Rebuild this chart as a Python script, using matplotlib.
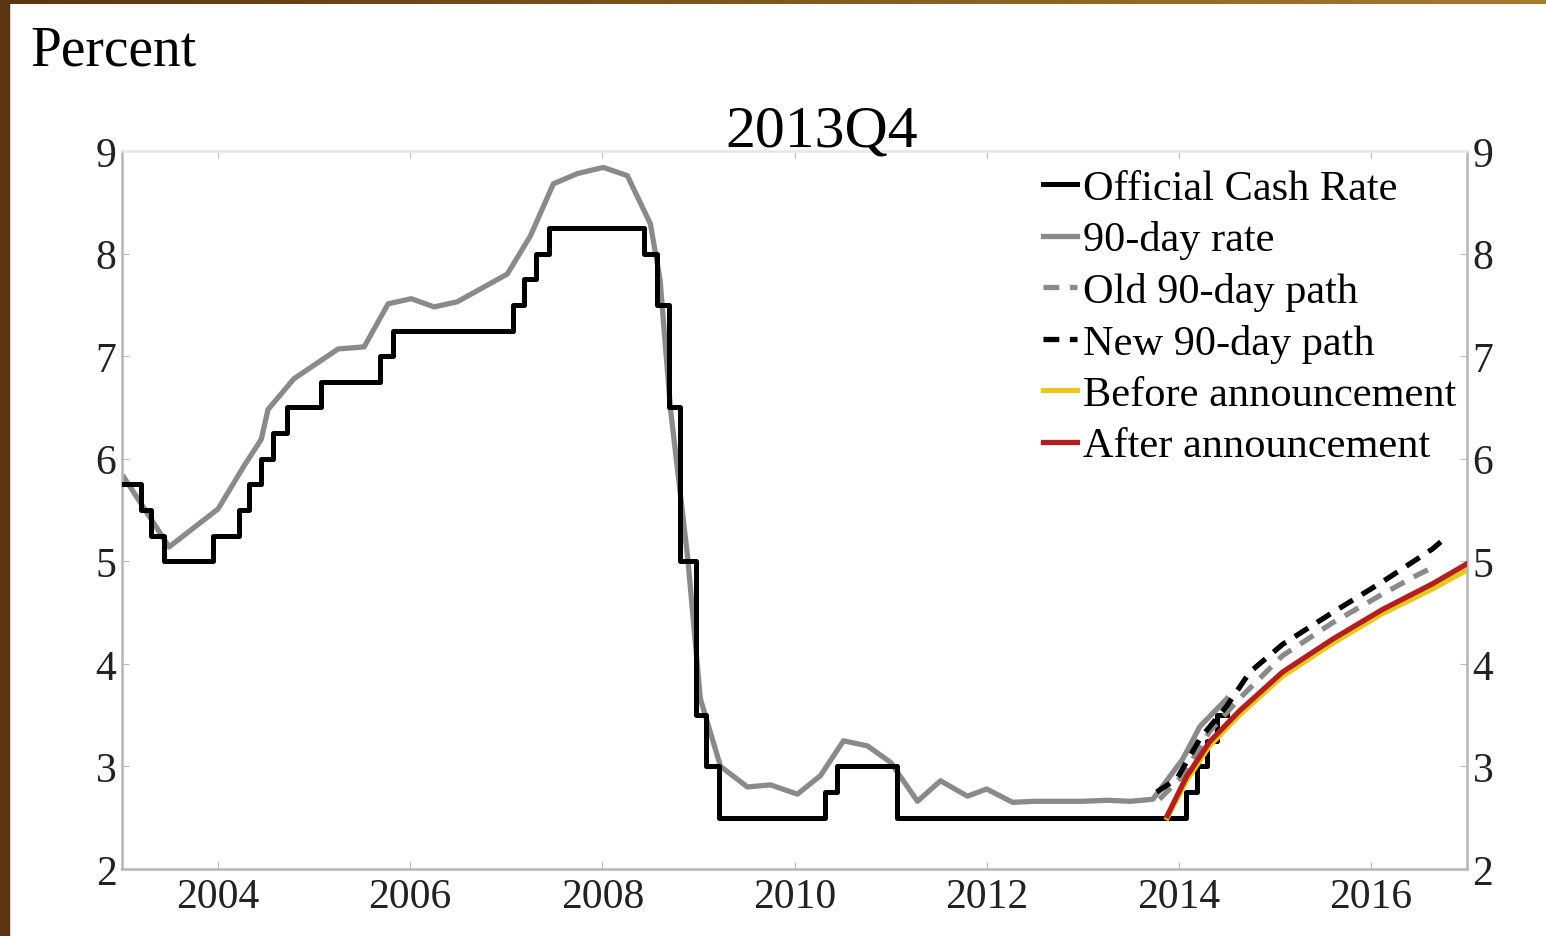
import numpy as np
import matplotlib
matplotlib.use("Agg")
from matplotlib import pyplot as plt
from matplotlib.patches import Rectangle

# Official Cash Rate: change dates (decimal years) and level from that date
ocr_dates = [2003.01, 2003.20, 2003.30, 2003.44, 2003.95, 2004.22, 2004.32, 2004.45,
             2004.57, 2004.72, 2005.07, 2005.69, 2005.82, 2007.07, 2007.18, 2007.31,
             2007.44, 2008.43, 2008.57, 2008.69, 2008.81, 2008.97, 2009.08, 2009.21,
             2010.32, 2010.44, 2011.07, 2014.08, 2014.19, 2014.29, 2014.40, 2014.50]
ocr_rate = [5.75, 5.5, 5.25, 5.0, 5.25, 5.5, 5.75, 6.0,
            6.25, 6.5, 6.75, 7.0, 7.25, 7.5, 7.75, 8.0,
            8.25, 8.0, 7.5, 6.5, 5.0, 3.5, 3.0, 2.5,
            2.75, 3.0, 2.5, 2.75, 3.0, 3.25, 3.5, 3.5]

# 90-day bank bill rate
d90_dates = [2003.02, 2003.49, 2004.00, 2004.27, 2004.45, 2004.52, 2004.79, 2005.25,
             2005.52, 2005.77, 2006.01, 2006.25, 2006.49, 2007.01, 2007.25, 2007.49,
             2007.74, 2008.01, 2008.26, 2008.50, 2008.60, 2008.71, 2008.89, 2009.02,
             2009.23, 2009.51, 2009.75, 2010.03, 2010.27, 2010.51, 2010.76, 2011.00,
             2011.28, 2011.52, 2011.80, 2012.00, 2012.27, 2012.50, 2012.84, 2013.00,
             2013.25, 2013.50, 2013.73, 2014.04, 2014.22, 2014.50]
d90_rate = [5.82, 5.14, 5.51, 5.93, 6.19, 6.48, 6.78, 7.07,
            7.09, 7.51, 7.56, 7.48, 7.53, 7.80, 8.17, 8.68,
            8.78, 8.84, 8.76, 8.29, 7.75, 6.48, 5.02, 3.66,
            3.00, 2.80, 2.82, 2.73, 2.91, 3.25, 3.20, 3.04,
            2.66, 2.86, 2.71, 2.78, 2.65, 2.66, 2.66, 2.66,
            2.67, 2.66, 2.68, 3.07, 3.39, 3.66]

# projected 90-day paths
old_dates = [2013.80, 2014.04, 2014.32, 2014.63, 2015.08, 2015.60, 2016.12, 2016.47, 2016.62]
old_path = [2.68, 2.91, 3.34, 3.66, 4.08, 4.40, 4.68, 4.86, 4.93]
new_dates = [2013.77, 2013.98, 2014.22, 2014.50, 2014.74, 2015.08, 2015.60, 2016.12, 2016.64, 2016.74]
new_path = [2.75, 2.88, 3.27, 3.59, 3.92, 4.19, 4.50, 4.80, 5.12, 5.20]

# OCR paths before / after announcement
ann_dates = [2013.88, 2014.08, 2014.32, 2014.63, 2015.08, 2015.60, 2016.12, 2016.64, 2016.99]
before_path = [2.50, 2.86, 3.20, 3.50, 3.88, 4.20, 4.49, 4.73, 4.91]
after_path = [2.52, 2.90, 3.24, 3.54, 3.92, 4.24, 4.53, 4.78, 4.97]

xticks = [2004, 2006, 2008, 2010, 2012, 2014, 2016]
yticks = [2, 3, 4, 5, 6, 7, 8, 9]

plt.rcParams['font.family'] = ['Liberation Serif', 'DejaVu Serif']

fig = plt.figure(figsize=(15.46, 9.37), dpi=100)
W, H = 1546, 937
ax = fig.add_axes([122 / W, 1 - 870 / H, (1467 - 122) / W, (870 - 152) / H])

# brown frame along top and left edge
grad = fig.add_axes([0, 1 - 5 / H, 1, 5 / H])
grad.imshow(np.linspace(0, 1, 256).reshape(1, -1), aspect='auto',
            cmap=matplotlib.colors.LinearSegmentedColormap.from_list('b', ['#5a3510', '#a67c2e']))
grad.axis('off')
fig.patches.append(Rectangle((0, 0), 9 / W, 1, transform=fig.transFigure,
                             color='#5a3510', zorder=0))

ax.step(ocr_dates, ocr_rate, where='post', color='black', lw=3.6,
        label='Official Cash Rate', zorder=3)
ax.plot(d90_dates, d90_rate, color='#8a8a8a', lw=3.8, label='90-day rate', zorder=2)
ax.plot(old_dates, old_path, color='#8a8a8a', lw=3.8, ls=(0, (3.0, 2.0)),
        label='Old 90-day path', zorder=4)
ax.plot(new_dates, new_path, color='black', lw=3.8, ls=(0, (3.0, 2.0)),
        label='New 90-day path', zorder=4)
ax.plot(ann_dates, before_path, color='#e8c81e', lw=3.8, label='Before announcement', zorder=5)
ax.plot(ann_dates, after_path, color='#b11f1f', lw=3.8, label='After announcement', zorder=6)

ax.set_xlim(2003, 2017)
ax.set_ylim(2, 9)
ax.set_xticks(xticks)
ax.set_yticks(yticks)
ax.tick_params(axis='both', direction='in', length=5, color='#bbbbbb',
               labelsize=30, labelcolor='#222222', pad=6)
ax.tick_params(axis='y', right=True, labelright=True, pad=4)
ax.tick_params(axis='x', top=True)
for s in ax.spines.values():
    s.set_color('#b5b5b5')
    s.set_linewidth(1.8)
ax.spines['top'].set_color('#e6e6e6')

fig.text(30 / W, 1 - 65 / H, 'Percent', fontsize=40, ha='left', va='baseline')
fig.text(822 / W, 1 - 146 / H, '2013Q4', fontsize=43, ha='center', va='baseline')

leg = ax.legend(loc='upper left', bbox_to_anchor=(1043 / W, 1 - 170 / H),
                bbox_transform=fig.transFigure, frameon=False, fontsize=30.5,
                handlelength=0.8, handletextpad=0.15, labelspacing=0.3,
                borderpad=0, borderaxespad=0)

fig.savefig('out.png', dpi=100)
